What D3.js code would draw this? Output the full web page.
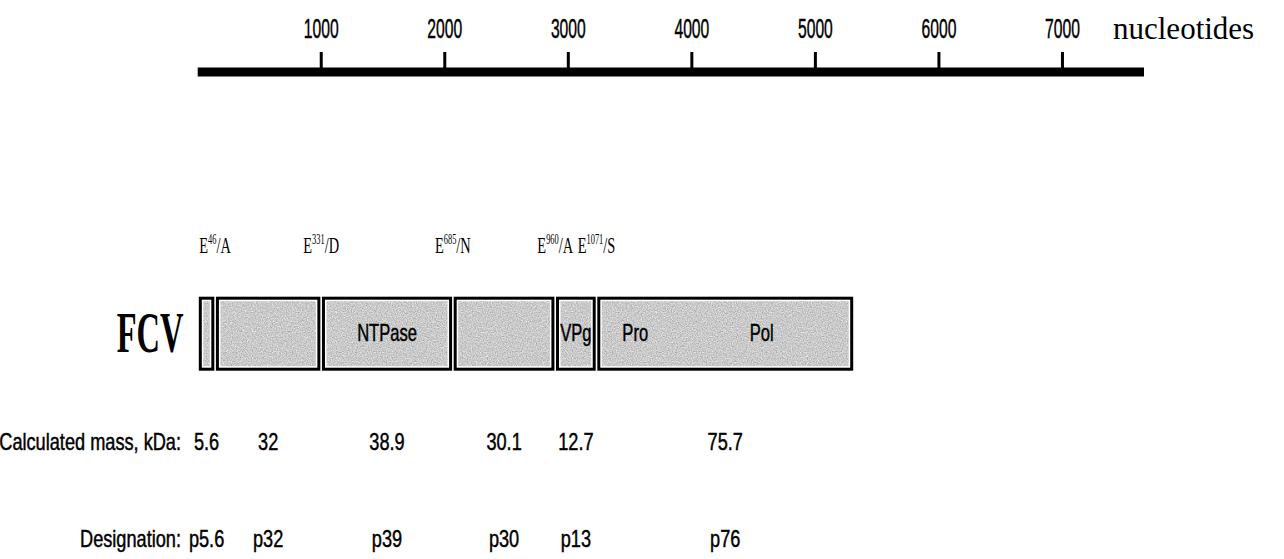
<!DOCTYPE html>
<html lang="en">
<head>
  <meta charset="UTF-8">
  <title>FCV ORF1 polyprotein map</title>
  <script src="https://d3js.org/d3.v7.min.js"></script>
  <style>
    body {
      margin: 0;
      background: #ffffff;
      overflow: hidden;
    }
    svg {
      display: block;
    }
    .sans {
      font-family: "Liberation Sans", Arial, sans-serif;
      fill: #000;
      stroke: #000;
      stroke-width: 0.45;
    }
    .serif {
      font-family: "Liberation Serif", "Times New Roman", serif;
      fill: #000;
    }
  </style>
</head>
<body>
  <svg width="1284" height="559"></svg>

  <script>
    // genome ruler (nucleotides)
    const genomeLength = 7660;
    const rulerTicks = [1000, 2000, 3000, 4000, 5000, 6000, 7000];

    // ORF1 polyprotein (amino acids) and its cleavage sites
    const polyproteinLength = 1763;
    const cleavageSites = [46, 331, 685, 960, 1071];
    const siteResidues = ["A", "D", "N", "A", "S"];
    const proteinNames = ["", "", "NTPase", "", "VPg", ""];
    const domainNames = ["Pro", "Pol"];
    const domainCenters = [1175, 1515];   // aa, inside the last protein
    const masses = ["5.6", "32", "38.9", "30.1", "12.7", "75.7"];
    const designations = ["p5.6", "p32", "p39", "p30", "p13", "p76"];

    const svg = d3.select("svg");

    const x = d3.scaleLinear().domain([0, genomeLength]).range([197.7, 1144]);
    const xp = d3.scaleLinear().domain([0, polyproteinLength]).range([198, 854]);

    // grainy grey fill like the printed figure
    const grain = svg.append("defs").append("filter")
      .attr("id", "grain")
      .attr("color-interpolation-filters", "sRGB")
      .attr("x", 0).attr("y", 0).attr("width", 1).attr("height", 1);
    grain.append("feTurbulence")
      .attr("type", "fractalNoise")
      .attr("baseFrequency", 0.8)
      .attr("numOctaves", 2)
      .attr("seed", 4)
      .attr("result", "noise");
    grain.append("feColorMatrix")
      .attr("in", "noise")
      .attr("type", "matrix")
      .attr("values", "0.22 0.22 0.22 0 0.46  0.22 0.22 0.22 0 0.46  0.22 0.22 0.22 0 0.46  0 0 0 0 1")
      .attr("result", "grey");
    grain.append("feComposite")
      .attr("in", "grey")
      .attr("in2", "SourceGraphic")
      .attr("operator", "in");

    // draws a horizontally squeezed text
    function label(txt, px, py, opts) {
      const o = Object.assign({ cls: "sans", size: 22, sx: 0.7, anchor: "middle", weight: "normal" }, opts);
      return svg.append("text")
        .attr("class", o.cls)
        .attr("transform", `translate(${px},${py}) scale(${o.sx},1)`)
        .attr("text-anchor", o.anchor)
        .attr("font-size", o.size)
        .attr("font-weight", o.weight)
        .text(txt);
    }

    // ---- ruler ----
    const rulerY = 72;
    svg.append("line")
      .attr("x1", x(0)).attr("x2", x(genomeLength))
      .attr("y1", rulerY).attr("y2", rulerY)
      .attr("stroke", "#000").attr("stroke-width", 9);

    svg.selectAll("line.tick")
      .data(rulerTicks)
      .join("line")
      .attr("class", "tick")
      .attr("x1", d => x(d)).attr("x2", d => x(d))
      .attr("y1", 52).attr("y2", rulerY)
      .attr("stroke", "#000").attr("stroke-width", 3);

    rulerTicks.forEach(t => label(String(t), x(t), 38, { size: 27, sx: 0.58 }));

    label("nucleotides", 1113, 39, { cls: "serif", size: 31, sx: 1, anchor: "start" });

    // ---- protein boxes ----
    const bounds = [0].concat(cleavageSites, [polyproteinLength]);
    const proteins = d3.range(bounds.length - 1).map(i => ({
      start: bounds[i], end: bounds[i + 1], name: proteinNames[i],
      mass: masses[i], desig: designations[i]
    }));

    const boxTop = 296.7, boxBottom = 370.7, sw = 3;

    const boxes = svg.selectAll("g.box")
      .data(proteins)
      .join("g")
      .attr("class", "box");

    boxes.append("rect")
      .attr("x", d => xp(d.start) + 0.8 + sw / 2)
      .attr("y", boxTop + sw / 2)
      .attr("width", d => xp(d.end) - xp(d.start) - 1.6 - sw)
      .attr("height", boxBottom - boxTop - sw)
      .attr("fill", "#fff")
      .attr("stroke", "#000")
      .attr("stroke-width", sw);

    boxes.append("rect")
      .attr("x", d => xp(d.start) + 0.8 + sw + 1.5)
      .attr("y", boxTop + sw + 1.5)
      .attr("width", d => Math.max(0, xp(d.end) - xp(d.start) - 1.6 - 2 * sw - 3))
      .attr("height", boxBottom - boxTop - 2 * sw - 3)
      .attr("fill", "#c9c9c9")
      .attr("filter", "url(#grain)");

    proteins.filter(p => p.name).forEach(p =>
      label(p.name, (xp(p.start) + xp(p.end)) / 2, 341, { size: 23, sx: 0.72 }));

    domainNames.forEach((n, i) => label(n, xp(domainCenters[i]), 341, { size: 23, sx: 0.72 }));

    // ---- cleavage site labels ----
    cleavageSites.forEach((s, i) => {
      const t = label("", xp(s), 253, { cls: "serif", size: 24, sx: 0.6 });
      t.append("tspan").text("E");
      t.append("tspan").attr("font-size", 14).attr("dy", -9).text(s);
      t.append("tspan").attr("dy", 9).text("/" + siteResidues[i]);
    });

    label("FCV", 150, 352, { cls: "serif", size: 56, sx: 0.58, weight: "bold" });

    // ---- rows under the map ----
    label("Calculated mass, kDa:", 181, 450, { anchor: "end", size: 23, sx: 0.79 });
    label("Designation:", 181, 547, { anchor: "end", size: 23, sx: 0.79 });

    proteins.forEach(p => {
      const cx = (xp(p.start) + xp(p.end)) / 2;
      label(p.mass, cx, 450, { size: 23, sx: 0.79 });
      label(p.desig, cx, 547, { size: 23, sx: 0.79 });
    });
  </script>
</body>
</html>
